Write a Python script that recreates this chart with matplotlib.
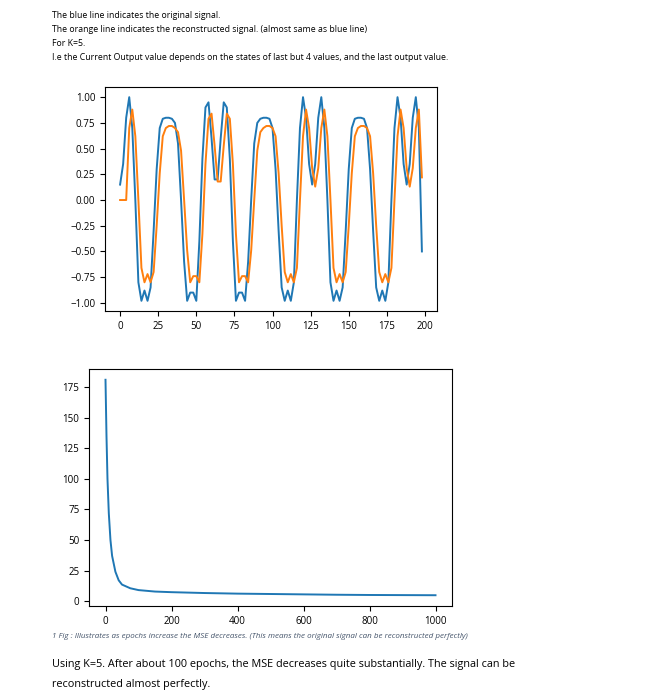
import matplotlib
matplotlib.use("Agg")
import matplotlib.pyplot as plt
import numpy as np

# signal samples (every 2 steps)
t_sig = list(range(0, 200, 2))
original = [0.15, 0.35, 0.8, 1.0, 0.7, 0.0, -0.8, -0.98, -0.88, -0.98,
            -0.85, -0.3, 0.3, 0.7, 0.79, 0.8, 0.8, 0.79, 0.75, 0.55,
            0.0, -0.6, -0.98, -0.9, -0.9, -0.98, -0.4, 0.4, 0.9, 0.95,
            0.6, 0.2, 0.2, 0.6, 0.95, 0.9, 0.4, -0.4, -0.98, -0.9,
            -0.9, -0.98, -0.6, 0.0, 0.55, 0.75, 0.79, 0.8, 0.8, 0.79,
            0.7, 0.3, -0.3, -0.85, -0.98, -0.88, -0.98, -0.8, 0.0, 0.7,
            1.0, 0.8, 0.35, 0.15, 0.35, 0.8, 1.0, 0.7, 0.0, -0.8,
            -0.98, -0.88, -0.98, -0.85, -0.3, 0.3, 0.7, 0.79, 0.8, 0.8,
            0.79, 0.7, 0.3, -0.3, -0.85, -0.98, -0.88, -0.98, -0.8, 0.0,
            0.7, 1.0, 0.8, 0.35, 0.15, 0.35, 0.8, 1.0, 0.7, -0.5]
reconstructed = [0.0, 0.0, 0.0, 0.7, 0.88, 0.62, 0.0, -0.66, -0.8, -0.72,
                 -0.8, -0.7, -0.25, 0.26, 0.62, 0.7, 0.72, 0.72, 0.7, 0.66,
                 0.48, 0.0, -0.49, -0.8, -0.74, -0.74, -0.8, -0.33, 0.35, 0.79,
                 0.84, 0.53, 0.18, 0.18, 0.53, 0.84, 0.79, 0.35, -0.33, -0.8,
                 -0.74, -0.74, -0.8, -0.49, 0.0, 0.48, 0.66, 0.7, 0.72, 0.72,
                 0.7, 0.62, 0.26, -0.25, -0.7, -0.8, -0.72, -0.8, -0.66, 0.0,
                 0.62, 0.88, 0.7, 0.31, 0.13, 0.31, 0.7, 0.88, 0.62, 0.0,
                 -0.66, -0.8, -0.72, -0.8, -0.7, -0.25, 0.26, 0.62, 0.7, 0.72,
                 0.72, 0.7, 0.62, 0.26, -0.25, -0.7, -0.8, -0.72, -0.8, -0.66,
                 0.0, 0.62, 0.88, 0.7, 0.31, 0.13, 0.31, 0.7, 0.88, 0.22]

# MSE vs epochs
epochs = [0, 3, 6, 10, 15, 20, 30, 40, 50, 75, 100, 150, 200, 300, 400,
          500, 600, 700, 800, 900, 1000]
mse = [181, 135, 100, 72, 50, 37, 24, 17, 13.5, 10.5, 9.0, 7.8, 7.3, 6.6, 6.1,
       5.8, 5.5, 5.2, 5.0, 4.9, 4.8]

W, H = 665, 695
fig = plt.figure(figsize=(W / 100, H / 100), dpi=100)
plt.rcParams["font.family"] = ["Open Sans", "DejaVu Sans"]

def box(l, t, r, b):
    return [l / W, 1 - b / H, (r - l) / W, (b - t) / H]

# header text
header = ["The blue line indicates the original signal.",
          "The orange line indicates the reconstructed signal. (almost same as blue line)",
          "For K=5.",
          "I.e the Current Output value depends on the states of last but 4 values, and the last output value."]
for i, line in enumerate(header):
    fig.text(52 / W, 1 - (15 + 14 * i) / H, line, fontsize=6.3, va="center")

ax1 = fig.add_axes(box(105, 87, 437, 311))
ax1.plot(t_sig, original, color="#1f77b4", lw=1.4)
ax1.plot(t_sig, reconstructed, color="#ff7f0e", lw=1.4)
ax1.set_yticks(np.arange(-1, 1.01, 0.25))
ax1.set_yticklabels([f"{v:.2f}".replace("-", "\u2212") for v in np.arange(-1, 1.01, 0.25)])
ax1.set_xticks(range(0, 201, 25))
ax1.tick_params(labelsize=7)

ax2 = fig.add_axes(box(89, 369, 452, 606))
ax2.plot(epochs, mse, color="#1f77b4", lw=1.4)
ax2.set_yticks(range(0, 176, 25))
ax2.set_xticks(range(0, 1001, 200))
ax2.tick_params(labelsize=7)

fig.text(52 / W, 1 - 637 / H,
         "1 Fig : Illustrates as epochs increase the MSE decreases. (This means the original signal can be reconstructed perfectly)",
         fontsize=5.8, style="italic", color="#44546a", va="center")
fig.text(52 / W, 1 - 664 / H,
         "Using K=5. After about 100 epochs, the MSE decreases quite substantially. The signal can be",
         fontsize=7.8, va="center")
fig.text(52 / W, 1 - 684 / H, "reconstructed almost perfectly.", fontsize=7.8, va="center")

fig.savefig("out.png", dpi=100)
